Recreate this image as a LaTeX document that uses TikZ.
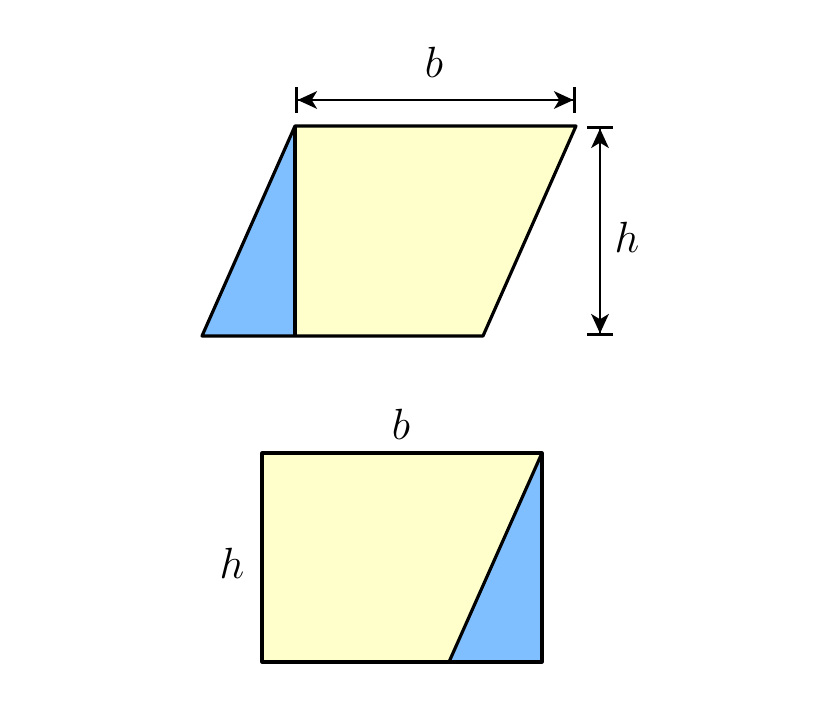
\documentclass[tikz,border=0pt]{standalone}
\usepackage{tikz}
\usetikzlibrary{arrows.meta}
\definecolor{paleyellow}{RGB}{255,255,204}
\definecolor{skyblue}{RGB}{128,191,255}

\begin{document}
\begin{tikzpicture}[x=0.02cm,y=-0.02cm,
    edge/.style={line width=1.8pt,line join=round},
    dim/.style={line width=1.5pt,{Bar[width=15pt]Stealth[length=11pt,width=10pt,inset=3pt]}-{Stealth[length=11pt,width=10pt,inset=3pt]Bar[width=15pt]}},
    lbl/.style={font=\fontsize{24}{28}\selectfont}]
    \useasboundingbox[fill=white] (0,0) rectangle (840,705);
    % parallelogram
    \coordinate (pa) at (202,336);
    \coordinate (pb) at (295,126);
    \coordinate (pc) at (576,126);
    \coordinate (pd) at (483,336);
    \coordinate (pf) at (295,336);
    \fill[skyblue] (pa) -- (pb) -- (pf) -- cycle;
    \fill[paleyellow] (pb) -- (pc) -- (pd) -- (pf) -- cycle;
    \draw[edge] (pa) -- (pb) -- (pc) -- (pd) -- cycle;
    \draw[edge] (pb) -- (pf);
    % dimensions
    \coordinate (bl) at (295,100);
    \coordinate (br) at (576,100);
    \coordinate (ht) at (600,126);
    \coordinate (hb) at (600,336);
    \draw[dim] (bl) -- (br);
    \draw[dim] (ht) -- (hb);
    \node[lbl] (b1) at (434,62) {$b$};
    \node[lbl] (h1) at (627,237) {$h$};
    % rectangle
    \coordinate (ra) at (262,662);
    \coordinate (rb) at (262,453);
    \coordinate (rc) at (542,453);
    \coordinate (rd) at (542,662);
    \coordinate (rf) at (449,662);
    \fill[paleyellow] (ra) -- (rb) -- (rc) -- (rf) -- cycle;
    \fill[skyblue] (rc) -- (rd) -- (rf) -- cycle;
    \draw[edge] (ra) -- (rb) -- (rc) -- (rd) -- cycle;
    \draw[edge] (rc) -- (rf);
    \node[lbl] (b2) at (401,424) {$b$};
    \node[lbl] (h2) at (232,563) {$h$};
\end{tikzpicture}
\end{document}
